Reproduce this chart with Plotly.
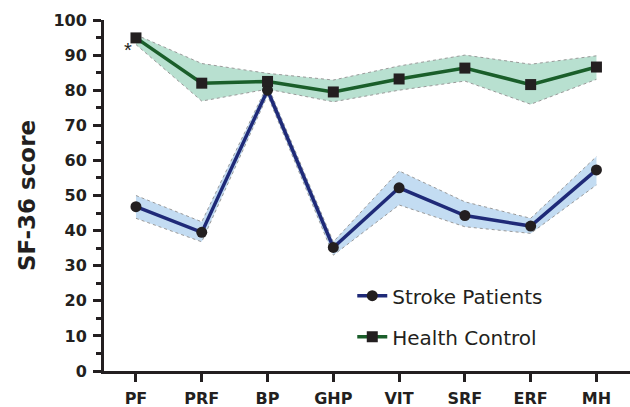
import plotly.graph_objects as go

categories = ["PF", "PRF", "BP", "GHP", "VIT", "SRF", "ERF", "MH"]

stroke_mean = [46.8, 39.5, 80.0, 35.2, 52.2, 44.3, 41.3, 57.3]
stroke_upper = [50.0, 42.5, 81.5, 36.8, 57.0, 48.2, 43.5, 61.1]
stroke_lower = [43.5, 36.8, 78.5, 33.0, 47.3, 41.1, 39.2, 53.0]

health_mean = [94.9, 82.0, 82.5, 79.5, 83.2, 86.3, 81.6, 86.6]
health_upper = [95.8, 87.6, 84.8, 82.9, 86.9, 90.0, 87.4, 89.8]
health_lower = [93.0, 76.9, 80.3, 76.7, 80.0, 82.6, 76.0, 83.1]

yticks = [0, 10, 20, 30, 40, 50, 60, 70, 80, 90, 100]

x = list(range(len(categories)))
FONT = "DejaVu Sans, Arial"
INK = "#231f20"

fig = go.Figure()

edge = dict(color="#9a9a9a", width=1, dash="dot")

# Health band
fig.add_trace(go.Scatter(x=x, y=health_lower, mode="lines", line=edge,
                         showlegend=False, hoverinfo="skip"))
fig.add_trace(go.Scatter(x=x, y=health_upper, mode="lines", line=edge,
                         fill="tonexty", fillcolor="rgba(150,210,185,0.68)",
                         showlegend=False, hoverinfo="skip"))
# Stroke band
fig.add_trace(go.Scatter(x=x, y=stroke_lower, mode="lines", line=edge,
                         showlegend=False, hoverinfo="skip"))
fig.add_trace(go.Scatter(x=x, y=stroke_upper, mode="lines", line=edge,
                         fill="tonexty", fillcolor="rgba(170,205,236,0.7)",
                         showlegend=False, hoverinfo="skip"))

fig.add_trace(go.Scatter(x=x, y=stroke_mean, mode="lines+markers", name="Stroke Patients",
                         legendgroup="a",
                         line=dict(color="#1f2a78", width=3.5),
                         marker=dict(symbol="circle", size=11, color=INK)))
fig.add_trace(go.Scatter(x=x, y=health_mean, mode="lines+markers", name="Health Control",
                         legendgroup="b",
                         line=dict(color="#1a5e2a", width=3.5),
                         marker=dict(symbol="square", size=11, color=INK)))

fig.add_annotation(x=0, y=95, text="*", showarrow=False, xshift=-8, yshift=-12,
                   font=dict(size=20, color=INK, family="Arial"))

fig.update_layout(
    width=630, height=407,
    margin=dict(l=104, r=0, t=20, b=36),
    plot_bgcolor="white", paper_bgcolor="white",
    font=dict(family=FONT, color=INK),
    legend=dict(x=0.472, y=0.27, xanchor="left", yanchor="top",
                font=dict(size=20, family=FONT, color=INK),
                tracegroupgap=12, bgcolor="rgba(0,0,0,0)"),
    xaxis=dict(range=[-0.486, 7.51], tickmode="array", tickvals=x,
               ticktext=["<b>%s</b>" % c for c in categories],
               showgrid=False, zeroline=False, showline=True, linecolor=INK,
               linewidth=3, ticks="outside", ticklen=8, tickwidth=3, tickcolor=INK,
               ticklabelstandoff=3,
               tickfont=dict(size=16, family=FONT, color=INK)),
    yaxis=dict(range=[0, 100], tickmode="array", tickvals=yticks,
               ticktext=["<b>%d</b>" % v for v in yticks],
               showgrid=False, zeroline=False,
               showline=True, linecolor=INK, linewidth=3, ticks="outside",
               ticklen=8, tickwidth=3, tickcolor=INK, ticklabelstandoff=3,
               minor=dict(tickvals=[v + 5 for v in yticks[:-1]], ticks="outside",
                          ticklen=5, tickwidth=2.5, tickcolor=INK),
               tickfont=dict(size=16, family=FONT, color=INK),
               title=dict(text="<b>SF-36 score</b>", font=dict(size=23, family=FONT, color=INK),
                          standoff=12)),
)

fig.write_html("out.html", config={"displayModeBar": False},
               post_script="document.body.style.margin='0';document.body.style.padding='0';")
